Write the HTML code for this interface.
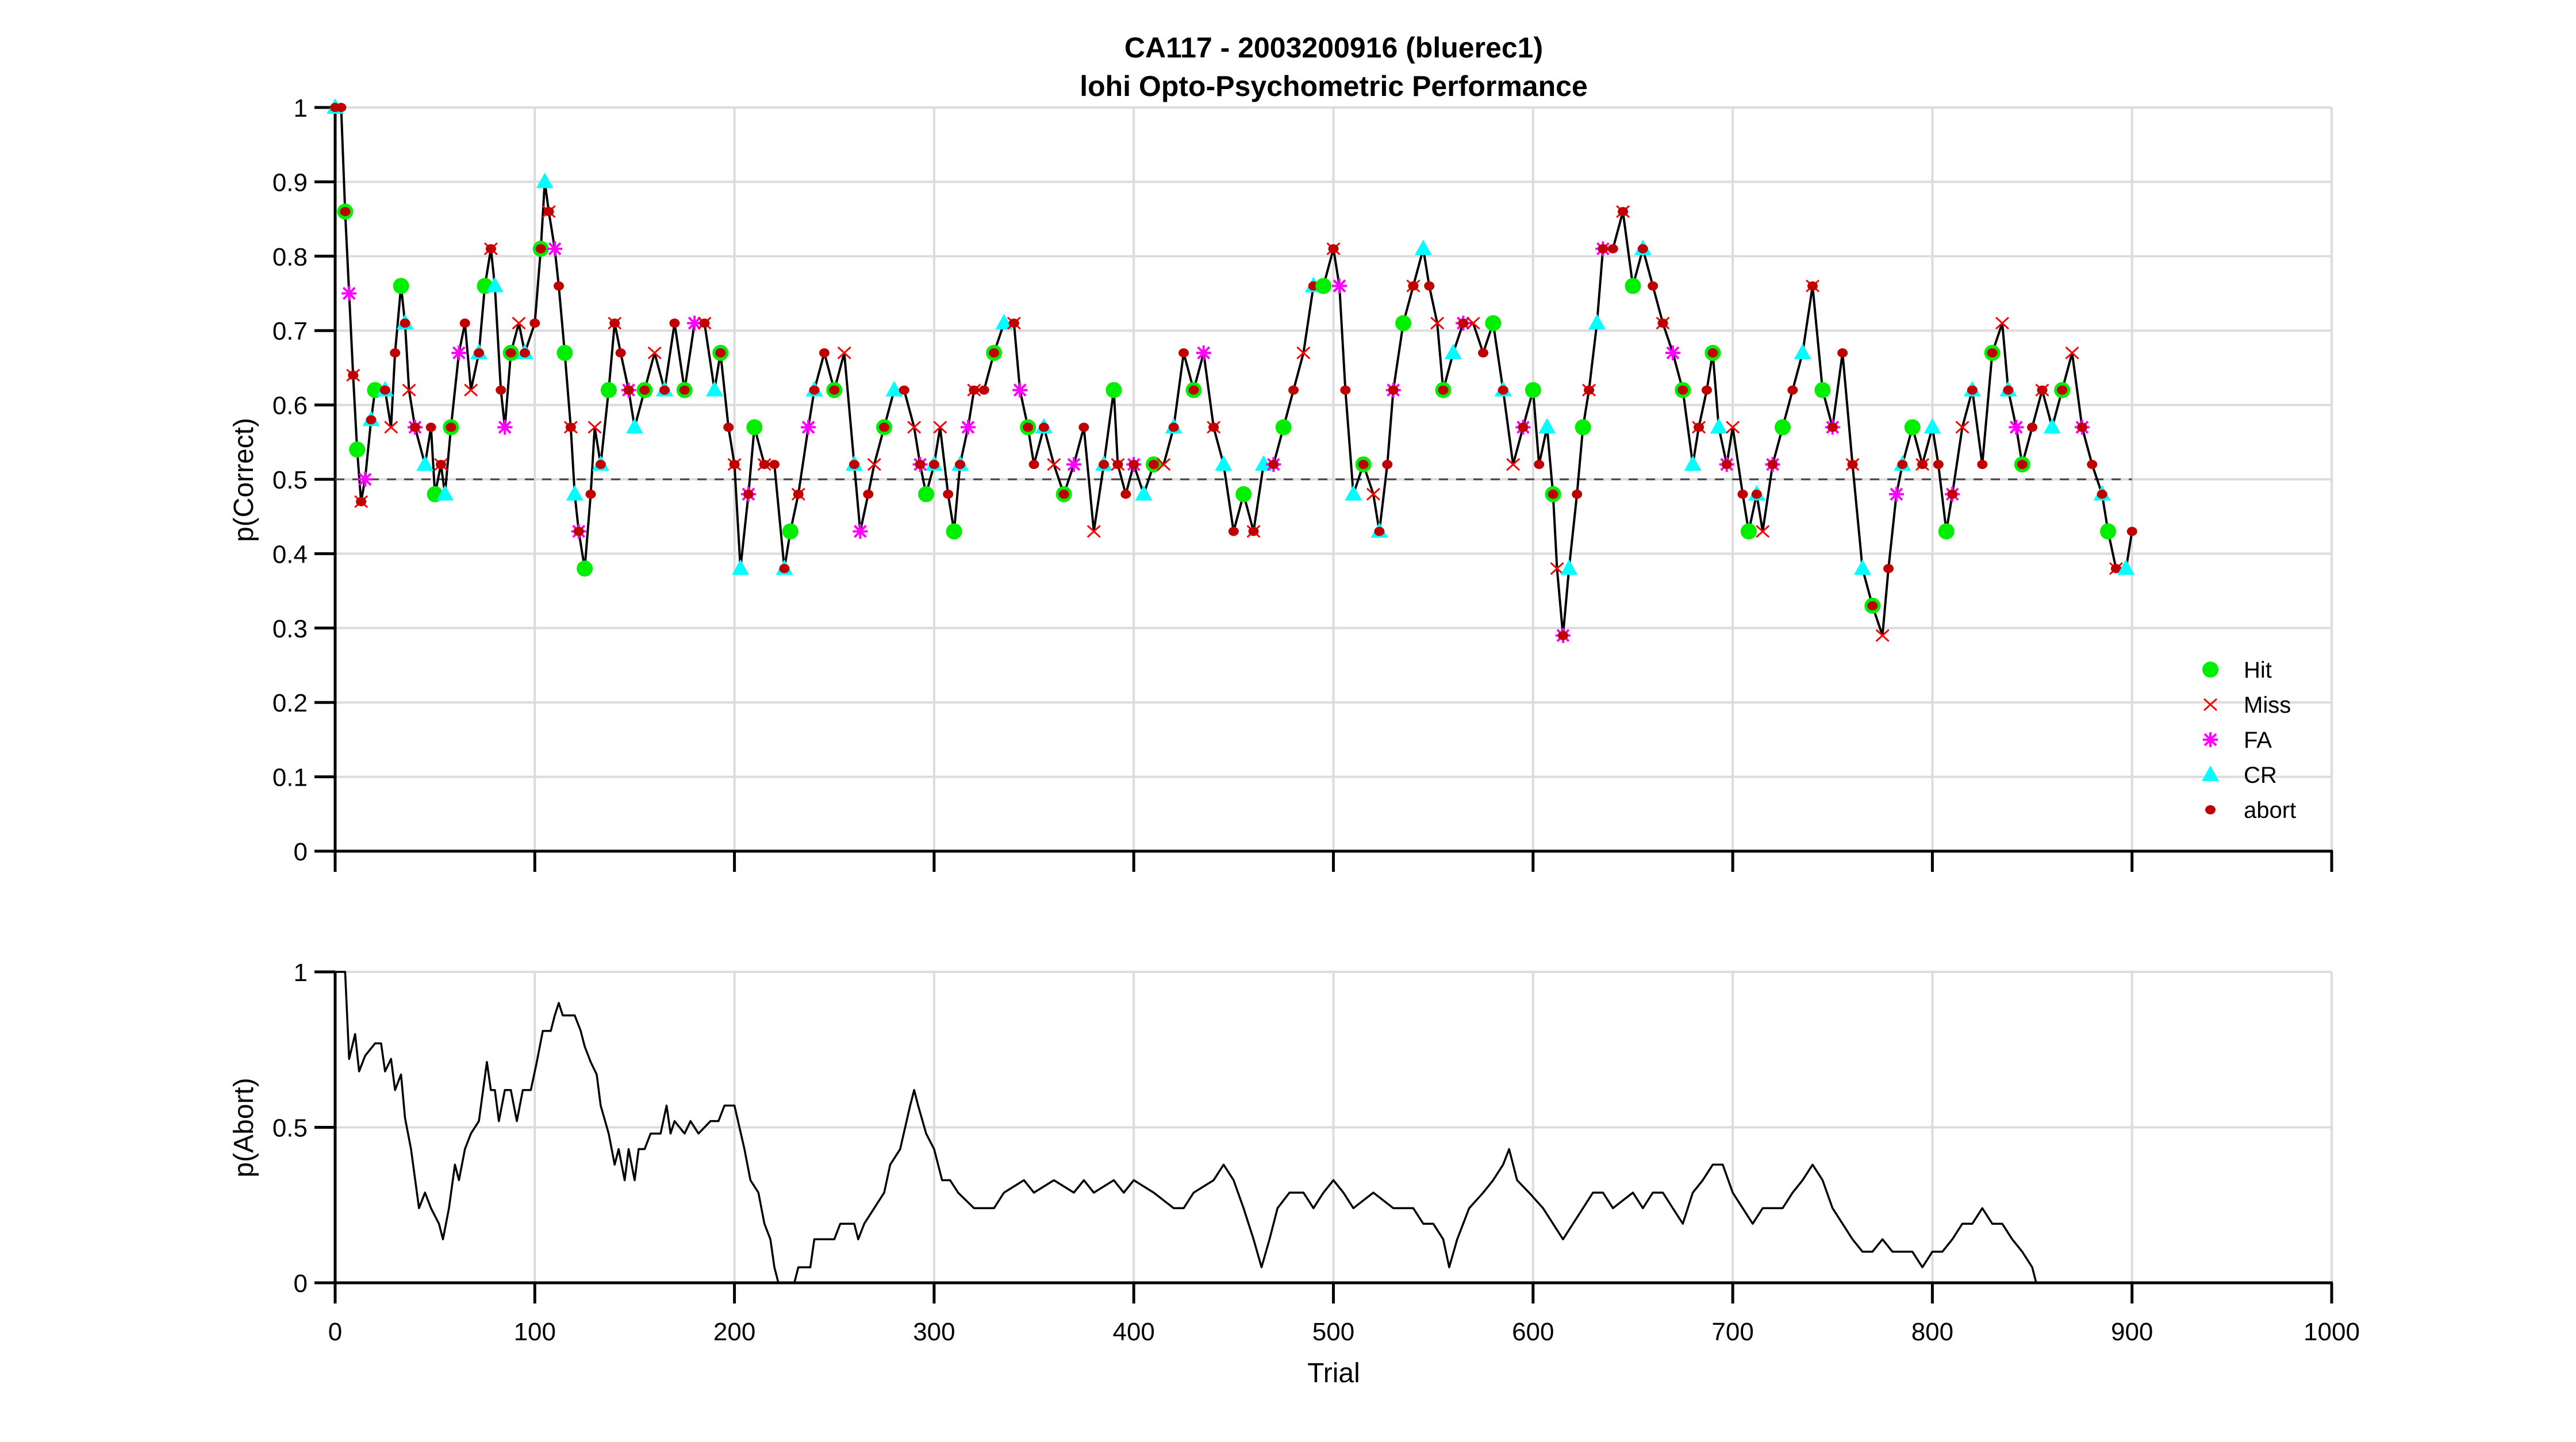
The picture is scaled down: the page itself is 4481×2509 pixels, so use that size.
<!DOCTYPE html>
<html><head><meta charset="utf-8">
<style>
html,body{margin:0;padding:0;background:#fff;}
svg{display:block;font-family:"Liberation Sans",Arial,sans-serif;}
</style></head>
<body>
<svg id="chart" width="4481" height="2509" viewBox="0 0 4481 2509" xmlns="http://www.w3.org/2000/svg">
<rect x="0" y="0" width="4481" height="2509" fill="#fff"/>
<text x="2320" y="100" font-size="50" font-weight="bold" text-anchor="middle">CA117 - 2003200916 (bluerec1)</text>
<text x="2320" y="167" font-size="50" font-weight="bold" text-anchor="middle">lohi Opto-Psychometric Performance</text>
<g id="topPanel"></g>
<g id="botPanel"></g>
<text transform="translate(440,835) rotate(-90)" font-size="48" text-anchor="middle">p(Correct)</text>
<text transform="translate(440,1962) rotate(-90)" font-size="48" text-anchor="middle">p(Abort)</text>
<text x="2320" y="2405" font-size="48" text-anchor="middle">Trial</text>
<g id="legend"></g>
</svg>
<script>
// ---- data ----
const correctTrials = [0,3,5,7,9,11,13,15,18,20,25,28,30,33,35,37,40,45,48,50,53,55,58,62,65,68,72,75,78,80,83,85,88,92,95,100,103,105,107,110,112,115,118,120,122,125,128,130,133,137,140,143,147,150,155,160,165,170,175,180,185,190,193,197,200,203,207,210,215,220,225,228,232,237,240,245,250,255,260,263,267,270,275,280,285,290,293,296,300,303,307,310,313,317,320,325,330,335,340,343,347,350,355,360,365,370,375,380,385,390,392,396,400,405,410,415,420,425,430,435,440,445,450,455,460,465,470,475,480,485,490,495,500,503,506,510,515,520,523,527,530,535,540,545,548,552,555,560,565,570,575,580,585,590,595,600,603,607,610,612,615,618,622,625,628,632,635,640,645,650,655,660,665,670,675,680,683,687,690,693,697,700,705,708,712,715,720,725,730,735,740,745,750,755,760,765,770,775,778,782,785,790,795,800,803,807,810,815,820,825,830,835,838,842,845,850,855,860,865,870,875,880,885,888,892,897,900];
const correctValues = [1,1,0.86,0.75,0.64,0.54,0.47,0.5,0.58,0.62,0.62,0.57,0.67,0.76,0.71,0.62,0.57,0.52,0.57,0.48,0.52,0.48,0.57,0.67,0.71,0.62,0.67,0.76,0.81,0.76,0.62,0.57,0.67,0.71,0.67,0.71,0.81,0.9,0.86,0.81,0.76,0.67,0.57,0.48,0.43,0.38,0.48,0.57,0.52,0.62,0.71,0.67,0.62,0.57,0.62,0.67,0.62,0.71,0.62,0.71,0.71,0.62,0.67,0.57,0.52,0.38,0.48,0.57,0.52,0.52,0.38,0.43,0.48,0.57,0.62,0.67,0.62,0.67,0.52,0.43,0.48,0.52,0.57,0.62,0.62,0.57,0.52,0.48,0.52,0.57,0.48,0.43,0.52,0.57,0.62,0.62,0.67,0.71,0.71,0.62,0.57,0.52,0.57,0.52,0.48,0.52,0.57,0.43,0.52,0.62,0.52,0.48,0.52,0.48,0.52,0.52,0.57,0.67,0.62,0.67,0.57,0.52,0.43,0.48,0.43,0.52,0.52,0.57,0.62,0.67,0.76,0.76,0.81,0.76,0.62,0.48,0.52,0.48,0.43,0.52,0.62,0.71,0.76,0.81,0.76,0.71,0.62,0.67,0.71,0.71,0.67,0.71,0.62,0.52,0.57,0.62,0.52,0.57,0.48,0.38,0.29,0.38,0.48,0.57,0.62,0.71,0.81,0.81,0.86,0.76,0.81,0.76,0.71,0.67,0.62,0.52,0.57,0.62,0.67,0.57,0.52,0.57,0.48,0.43,0.48,0.43,0.52,0.57,0.62,0.67,0.76,0.62,0.57,0.67,0.52,0.38,0.33,0.29,0.38,0.48,0.52,0.57,0.52,0.57,0.52,0.43,0.48,0.57,0.62,0.52,0.67,0.71,0.62,0.57,0.52,0.57,0.62,0.57,0.62,0.67,0.57,0.52,0.48,0.43,0.38,0.38,0.43];
const outcomeCodes = "CAHFMHMFCHCMAHCMFCAHMCHFAMCHMCAFHMCAHCMFAHMCFHAMCHMAFCHMCAHFMCHAMCFHMACHMFCAHMCFAMHCAMFHCMAHCFMAHCMFHACMHFAMCHMAFCHMCAHFMCAHMCFHAMCHMFACHMCAFHMCAMHCFMAHCMFHACHMFCAHMCFAMHCAMFHCMAHCFMAHCMFHACMHFAMCHMAFCHMCAHFMCAHMCFHAMCHMFACHMCAFHMCAM";
const abortTrials = [0,5,7,10,12,15,20,23,25,28,30,33,35,38,42,45,48,52,54,57,60,62,65,68,72,76,78,80,82,85,88,91,94,98,101,104,108,110,112,114,120,123,125,128,131,133,137,140,142,145,147,150,152,155,158,163,166,168,170,175,178,182,188,192,195,200,205,208,212,215,218,220,222,230,232,238,240,250,253,260,262,265,270,275,278,283,288,290,292,296,300,304,308,312,320,330,335,345,350,360,370,375,380,390,395,400,410,420,425,430,440,445,450,455,460,464,468,472,478,485,490,495,500,505,510,520,530,540,545,550,555,558,562,568,575,580,585,588,592,598,605,610,615,620,625,630,635,640,650,655,660,665,670,675,680,685,690,695,700,705,710,715,720,725,730,735,740,745,750,755,760,765,770,775,780,785,790,795,800,805,810,815,820,825,830,835,840,845,850,852];
const abortValues = [1,1,0.72,0.8,0.68,0.73,0.77,0.77,0.68,0.72,0.62,0.67,0.53,0.43,0.24,0.29,0.24,0.19,0.14,0.24,0.38,0.33,0.43,0.48,0.52,0.71,0.62,0.62,0.52,0.62,0.62,0.52,0.62,0.62,0.71,0.81,0.81,0.86,0.9,0.86,0.86,0.81,0.76,0.71,0.67,0.57,0.48,0.38,0.43,0.33,0.43,0.33,0.43,0.43,0.48,0.48,0.57,0.48,0.52,0.48,0.52,0.48,0.52,0.52,0.57,0.57,0.43,0.33,0.29,0.19,0.14,0.05,0,0,0.05,0.05,0.14,0.14,0.19,0.19,0.14,0.19,0.24,0.29,0.38,0.43,0.57,0.62,0.57,0.48,0.43,0.33,0.33,0.29,0.24,0.24,0.29,0.33,0.29,0.33,0.29,0.33,0.29,0.33,0.29,0.33,0.29,0.24,0.24,0.29,0.33,0.38,0.33,0.24,0.14,0.05,0.14,0.24,0.29,0.29,0.24,0.29,0.33,0.29,0.24,0.29,0.24,0.24,0.19,0.19,0.14,0.05,0.14,0.24,0.29,0.33,0.38,0.43,0.33,0.29,0.24,0.19,0.14,0.19,0.24,0.29,0.29,0.24,0.29,0.24,0.29,0.29,0.24,0.19,0.29,0.33,0.38,0.38,0.29,0.24,0.19,0.24,0.24,0.24,0.29,0.33,0.38,0.33,0.24,0.19,0.14,0.10,0.10,0.14,0.10,0.10,0.10,0.05,0.10,0.10,0.14,0.19,0.19,0.24,0.19,0.19,0.14,0.10,0.05,0];
const xTicks = [0,100,200,300,400,500,600,700,800,900,1000];
const yTicksTop = [0,0.1,0.2,0.3,0.4,0.5,0.6,0.7,0.8,0.9,1];
const yTickLabelsTop = ["0","0.1","0.2","0.3","0.4","0.5","0.6","0.7","0.8","0.9","1"];
const yTicksBot = [0,0.5,1];
const yTickLabelsBot = ["0","0.5","1"];
const legendLabels = ["Hit","Miss","FA","CR","abort"];
const legendCodes = ["H","M","F","C","A"];

// ---- geometry ----
const NS="http://www.w3.org/2000/svg";
const X0=583, X1=4056;
const T0=1481, T1=187, B0=2232, B1=1691;
const sx = t => X0 + (t/1000)*(X1-X0);
const syT = v => T0 - v*(T0-T1);
const syB = v => B0 - v*(B0-B1);
function mk(tag, attrs, parent){const e=document.createElementNS(NS,tag);for(const k in attrs)e.setAttribute(k,attrs[k]);parent.appendChild(e);return e;}

function drawAxes(g, y0, y1, sy, ticks, labels){
  xTicks.forEach(t=>{
    const l=mk('line',{x1:sx(t),x2:sx(t),y1:y1,y2:y0,stroke:'#dcdcdc','stroke-width':4},g);
    
    
  });
  ticks.forEach((v,i)=>{
    const l=mk('line',{x1:X0,x2:X1,y1:sy(v),y2:sy(v),stroke:'#dcdcdc','stroke-width':4},g);
    
    
    const tk=mk('line',{x1:X0-36,x2:X0,y1:sy(v),y2:sy(v),stroke:'#000','stroke-width':5},g);
    
    
    const tx=mk('text',{x:X0-48,y:sy(v)+16,'font-size':44,'text-anchor':'end'},g);
    tx.textContent=labels[i];
    
    
  });
  xTicks.forEach(t=>{
    const tk=mk('line',{x1:sx(t),x2:sx(t),y1:y0,y2:y0+36,stroke:'#000','stroke-width':5},g);
    
    
  });
  const ax=mk('line',{x1:X0-2,x2:X1+2,y1:y0,y2:y0,stroke:'#000','stroke-width':5},g);
  
  
  const ay=mk('line',{x1:X0,x2:X0,y1:y1,y2:y0,stroke:'#000','stroke-width':5},g);
  
  
}

function marker(code,x,y,g){
  let e;
  if(code==='H'){e=mk('circle',{cx:x,cy:y,r:14,fill:'#00ee00'},g);}
  else if(code==='M'){e=mk('path',{d:`M${x-11},${y-10}L${x+11},${y+10}M${x-11},${y+10}L${x+11},${y-10}`,stroke:'#ff0000','stroke-width':3,fill:'none'},g);}
  else if(code==='F'){e=mk('path',{d:`M${x-13},${y}L${x+13},${y}M${x},${y-13}L${x},${y+13}M${x-10},${y-10}L${x+10},${y+10}M${x-10},${y+10}L${x+10},${y-10}`,stroke:'#ff00ff','stroke-width':4,fill:'none'},g);}
  else if(code==='C'){e=mk('path',{d:`M${x},${y-16}L${x+15},${y+11}L${x-15},${y+11}Z`,fill:'#00ffff'},g);}
  else {e=mk('ellipse',{cx:x,cy:y,rx:9,ry:8,fill:'#c00000'},g);}
  return e;
}

// ---- top panel ----
const topPanel=document.getElementById('topPanel');
drawAxes(topPanel,T0,T1,syT,yTicksTop,yTickLabelsTop);
const refLine=mk('line',{x1:sx(0),x2:sx(900),y1:syT(0.5),y2:syT(0.5),stroke:'#444','stroke-width':3,'stroke-dasharray':'16,14'},topPanel);


const ptsT=correctTrials.map((t,i)=>sx(t)+','+syT(correctValues[i])).join(' ');
const lineT=mk('polyline',{points:ptsT,fill:'none',stroke:'#000','stroke-width':4,'stroke-linejoin':'round'},topPanel);


correctTrials.forEach((t,i)=>{
  const code=outcomeCodes[i%outcomeCodes.length];
  const m=marker(code,sx(t),syT(correctValues[i]),topPanel);
  
  
  if(code!=='A' && i%2===0){
    const a=marker('A',sx(t),syT(correctValues[i]),topPanel);
    
    
  }
});

// ---- bottom panel ----
const botPanel=document.getElementById('botPanel');
drawAxes(botPanel,B0,B1,syB,yTicksBot,yTickLabelsBot);
xTicks.forEach(t=>{
  const tx=mk('text',{x:sx(t),y:B0+100,'font-size':44,'text-anchor':'middle'},botPanel);
  tx.textContent=String(t);
  
  
});
let dPath='';
abortTrials.forEach((t,i)=>{dPath+=(i?'L':'M')+sx(t)+','+syB(abortValues[i]);});
const lineB=mk('path',{d:dPath,fill:'none',stroke:'#000','stroke-width':3.5,'stroke-linejoin':'round'},botPanel);



// ---- legend ----
const lg=document.getElementById('legend');
legendLabels.forEach((lab,i)=>{
  const y=1165+i*61;
  const m=marker(legendCodes[i],3845,y,lg);
  
  
  const tx=mk('text',{x:3903,y:y+14,'font-size':40},lg);
  tx.textContent=lab;
  
  
});
</script>
</body></html>
